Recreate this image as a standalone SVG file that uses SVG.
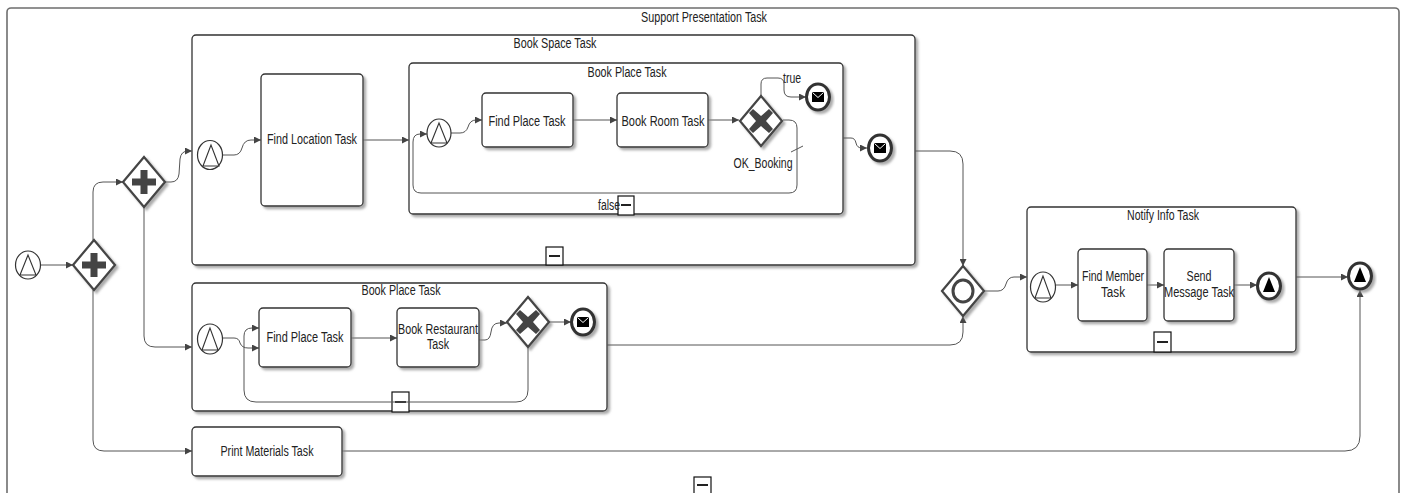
<svg xmlns="http://www.w3.org/2000/svg" width="1408" height="493" viewBox="0 0 1408 493">
<style>
text{font-family:"Liberation Sans",Arial,sans-serif;font-size:14px;fill:#222;text-anchor:middle}
.box{fill:#fff;stroke:#333;stroke-width:1.3}
.outer{fill:#fff;stroke:#6e6e6e;stroke-width:1.6}
.sh{filter:url(#sh)}
.gw{fill:#fff;stroke:#444;stroke-width:2.2}
.ic{fill:#444}
.st{fill:#fff;stroke:#333;stroke-width:1.2}
.tri{fill:#fff;stroke:#333;stroke-width:1.1}
.en{fill:#fff;stroke:#333;stroke-width:3}
.env{fill:#000}
.envl{fill:none;stroke:#fff;stroke-width:1}
.mk{fill:#fff;stroke:#111;stroke-width:1.2}
.mkl{stroke:#222;stroke-width:2}
.c{fill:none;stroke:#555;stroke-width:1}
</style>
<defs>
<filter id="sh" x="-10%" y="-10%" width="130%" height="130%">
<feDropShadow dx="2.5" dy="2.5" stdDeviation="1.2" flood-color="#888" flood-opacity="0.7"/>
</filter>
<marker id="ar" viewBox="0 0 10 10" refX="10" refY="5" markerWidth="9" markerHeight="7" markerUnits="userSpaceOnUse" orient="auto">
<path d="M0,0 L10,5 L0,10 z" fill="#444"/>
</marker>
</defs>

<g id="support-presentation-task">
<rect class="outer" x="7" y="8" width="1392" height="520" rx="4"/>
<text x="704" y="22" textLength="126" lengthAdjust="spacingAndGlyphs">Support Presentation Task</text>
<rect class="mk" x="694" y="477" width="17" height="18"/>
<line class="mkl" x1="697" y1="485" x2="708" y2="485"/>
</g>

<g id="book-space-task">
<rect class="box sh" x="192" y="35" width="723" height="230" rx="4"/>
<text x="555" y="48" textLength="83" lengthAdjust="spacingAndGlyphs">Book Space Task</text>
<rect class="mk" x="546" y="247" width="17" height="18"/>
<line class="mkl" x1="549" y1="256" x2="560" y2="256"/>
</g>

<g id="book-place-task-1">
<rect class="box sh" x="409" y="63" width="434" height="151" rx="4"/>
<text x="627" y="77" textLength="79" lengthAdjust="spacingAndGlyphs">Book Place Task</text>
<rect class="mk" x="618" y="196" width="16" height="19"/>
<line class="mkl" x1="621" y1="205" x2="631" y2="205"/>
</g>

<g id="book-place-task-2">
<rect class="box sh" x="192" y="283" width="415" height="128" rx="4"/>
<text x="401" y="295" textLength="79" lengthAdjust="spacingAndGlyphs">Book Place Task</text>
<rect class="mk" x="392" y="392" width="17" height="20"/>
<line class="mkl" x1="395" y1="402" x2="406" y2="402"/>
</g>

<g id="notify-info-task">
<rect class="box sh" x="1027" y="207" width="269" height="145" rx="4"/>
<text x="1163" y="220" textLength="72" lengthAdjust="spacingAndGlyphs">Notify Info Task</text>
<rect class="mk" x="1154" y="332" width="17" height="20"/>
<line class="mkl" x1="1157" y1="342" x2="1168" y2="342"/>
</g>

<g id="connectors">
<path class="c" marker-end="url(#ar)" d="M41,265 L73,265"/>
<path class="c" marker-end="url(#ar)" d="M93,240 L93,192 Q93,182 103,182 L123,182"/>
<path class="c" marker-end="url(#ar)" d="M93,290 L93,440 Q93,451 104,451 L192,451"/>
<path class="c" marker-end="url(#ar)" d="M165,182 L171,182 Q178,182 179,174 L180,159 Q181,151 188,151 L192,151"/>
<path class="c" marker-end="url(#ar)" d="M144,206 L144,336 Q144,347 155,347 L192,347"/>
<path class="c" marker-end="url(#ar)" d="M223,155 L234,155 Q240,155 242,148 Q244,140 251,140 L261,140"/>
<path class="c" marker-end="url(#ar)" d="M363,140 L409,140"/>
<path class="c" marker-end="url(#ar)" d="M451,133 L460,133 Q466,133 468,127 Q470,120 476,120 L482,120"/>
<path class="c" marker-end="url(#ar)" d="M573,120 L617,120"/>
<path class="c" marker-end="url(#ar)" d="M708,120 L739,120"/>
<path class="c" marker-end="url(#ar)" d="M761,97 L761,84 Q761,78 767,78 L778,78 Q784,78 784,84 L784,90 Q784,97 791,97 L806,97"/>
<path class="c" marker-end="url(#ar)" d="M783,120 L789,120 Q797,120 797,128 L797,185 Q797,193 789,193 L421,193 Q413,193 413,185 L413,142 Q413,134 420,134 L427,134"/>
<line class="c" x1="791" y1="152" x2="803" y2="146"/>
<path class="c" marker-end="url(#ar)" d="M843,138 L851,138 Q855,138 856,143 Q857,148 862,148 L867,148"/>
<path class="c" marker-end="url(#ar)" d="M915,151 L950,151 Q963,151 963,164 L963,266"/>
<path class="c" marker-end="url(#ar)" d="M607,345 L950,345 Q963,345 963,332 L963,316"/>
<path class="c" marker-end="url(#ar)" d="M984,291 L998,291 Q1004,291 1006,284 Q1008,277 1014,277 L1027,277"/>
<path class="c" marker-end="url(#ar)" d="M223,338 L234,338 Q239,338 240,343 Q242,348 248,348 L259,348"/>
<path class="c" marker-end="url(#ar)" d="M528,348 L528,390 Q528,402 516,402 L256,402 Q244,402 244,390 L244,336 Q244,328 252,328 L259,328"/>
<path class="c" marker-end="url(#ar)" d="M351,338 L397,338"/>
<path class="c" marker-end="url(#ar)" d="M479,340 L485,340 Q490,340 491,332 Q492,323 499,323 L507,323"/>
<path class="c" marker-end="url(#ar)" d="M549,322 L571,322"/>
<path class="c" marker-end="url(#ar)" d="M1056,285 L1078,285"/>
<path class="c" marker-end="url(#ar)" d="M1147,285 L1164,285"/>
<path class="c" marker-end="url(#ar)" d="M1234,285 L1257,285"/>
<path class="c" marker-end="url(#ar)" d="M1296,277 L1348,277"/>
<path class="c" marker-end="url(#ar)" d="M342,451 L1345,451 Q1360,451 1360,436 L1360,290"/>
<text x="792" y="83" textLength="18" lengthAdjust="spacingAndGlyphs">true</text>
<text x="763" y="168" textLength="59" lengthAdjust="spacingAndGlyphs">OK_Booking</text>
<text x="609" y="210" textLength="22" lengthAdjust="spacingAndGlyphs">false</text>
</g>

<g id="start">
<ellipse class="st" cx="28" cy="265" rx="12.5" ry="14"/>
<path class="tri" d="M28,255 L20,275 L36,275 z"/>
</g>

<g id="gateway-parallel-1">
<path class="gw sh" d="M73,265 L94,240 L115,265 L94,290 z"/>
<path class="ic" d="M90.5,253 h7 v8.5 h8.5 v7 h-8.5 v8.5 h-7 v-8.5 h-8.5 v-7 h8.5 z"/>
</g>

<g id="gateway-parallel-2">
<path class="gw sh" d="M123,182 L144,157 L165,182 L144,207 z"/>
<path class="ic" d="M140.5,170 h7 v8.5 h8.5 v7 h-8.5 v8.5 h-7 v-8.5 h-8.5 v-7 h8.5 z"/>
</g>

<g id="book-space-start">
<ellipse class="st" cx="210" cy="155" rx="12.5" ry="14.5"/>
<path class="tri" d="M211,145 L203,166 L219,166 z"/>
</g>

<g id="find-location-task">
<rect class="box sh" x="261" y="74" width="102" height="132" rx="4"/>
<text x="312" y="144" textLength="90" lengthAdjust="spacingAndGlyphs">Find Location Task</text>
</g>

<g id="book-place-1-start">
<ellipse class="st" cx="439" cy="133" rx="12" ry="14"/>
<path class="tri" d="M439,123 L431,143 L447,143 z"/>
</g>

<g id="find-place-task-1">
<rect class="box sh" x="482" y="93" width="91" height="54" rx="4"/>
<text x="527" y="126" textLength="77" lengthAdjust="spacingAndGlyphs">Find Place Task</text>
</g>

<g id="book-room-task">
<rect class="box sh" x="617" y="93" width="91" height="54" rx="4"/>
<text x="663" y="126" textLength="83" lengthAdjust="spacingAndGlyphs">Book Room Task</text>
</g>

<g id="ok-booking-gateway">
<path class="gw sh" d="M740,121 L761,96 L782,121 L761,146 z"/>
<path class="ic" d="M753,109 L761,116 L769,109 L773,113 L766,121 L773,129 L769,133 L761,126 L753,133 L749,129 L756,121 L749,113 z"/>
</g>

<g id="book-place-1-end">
<ellipse class="en sh" cx="818" cy="97" rx="11.5" ry="13"/>
<rect class="env" x="812" y="92" width="12" height="10"/>
<path class="envl" d="M812.5,92.5 L818,97.5 L823.5,92.5"/>
</g>

<g id="book-space-end">
<ellipse class="en sh" cx="880" cy="148" rx="11.5" ry="13"/>
<rect class="env" x="874" y="143" width="12" height="10"/>
<path class="envl" d="M874.5,143.5 L880,148.5 L885.5,143.5"/>
</g>

<g id="book-place-2-start">
<ellipse class="st" cx="210" cy="339" rx="12.5" ry="15"/>
<path class="tri" d="M210,328 L202,350 L218,350 z"/>
</g>

<g id="find-place-task-2">
<rect class="box sh" x="259" y="308" width="92" height="59" rx="4"/>
<text x="305" y="342" textLength="77" lengthAdjust="spacingAndGlyphs">Find Place Task</text>
</g>

<g id="book-restaurant-task">
<rect class="box sh" x="397" y="308" width="82" height="59" rx="4"/>
<text x="438" y="334" textLength="80" lengthAdjust="spacingAndGlyphs">Book Restaurant</text>
<text x="438" y="349" textLength="22" lengthAdjust="spacingAndGlyphs">Task</text>
</g>

<g id="restaurant-gateway">
<path class="gw sh" d="M507,322 L528,297 L549,322 L528,347 z"/>
<path class="ic" d="M520,310 L528,317 L536,310 L540,314 L533,322 L540,330 L536,334 L528,327 L520,334 L516,330 L523,322 L516,314 z"/>
</g>

<g id="book-place-2-end">
<ellipse class="en sh" cx="583" cy="322" rx="11.5" ry="13"/>
<rect class="env" x="577" y="317" width="12" height="10"/>
<path class="envl" d="M577.5,317.5 L583,322.5 L588.5,317.5"/>
</g>

<g id="inclusive-gateway">
<path class="gw sh" d="M942,291 L963,266 L984,291 L963,316 z"/>
<ellipse cx="963" cy="291" rx="10" ry="11" fill="none" stroke="#444" stroke-width="3"/>
</g>

<g id="notify-start">
<ellipse class="st" cx="1043" cy="287" rx="12.5" ry="15"/>
<path class="tri" d="M1043,276 L1035,298 L1051,298 z"/>
</g>

<g id="find-member-task">
<rect class="box sh" x="1078" y="249" width="69" height="72" rx="4"/>
<text x="1113" y="281" textLength="62" lengthAdjust="spacingAndGlyphs">Find Member</text>
<text x="1113" y="297" textLength="24" lengthAdjust="spacingAndGlyphs">Task</text>
</g>

<g id="send-message-task">
<rect class="box sh" x="1164" y="249" width="70" height="72" rx="4"/>
<text x="1199" y="281" textLength="25" lengthAdjust="spacingAndGlyphs">Send</text>
<text x="1199" y="297" textLength="70" lengthAdjust="spacingAndGlyphs">Message Task</text>
</g>

<g id="notify-end">
<ellipse class="en sh" cx="1269" cy="286" rx="11.5" ry="13"/>
<path d="M1269,277 L1263,292 L1275,292 z" fill="#000"/>
</g>

<g id="print-materials-task">
<rect class="box sh" x="192" y="427" width="150" height="49" rx="4"/>
<text x="267" y="456" textLength="93" lengthAdjust="spacingAndGlyphs">Print Materials Task</text>
</g>

<g id="end">
<ellipse class="en sh" cx="1360" cy="276" rx="11.5" ry="13"/>
<path d="M1360,267 L1354,282 L1366,282 z" fill="#000"/>
</g>
</svg>
